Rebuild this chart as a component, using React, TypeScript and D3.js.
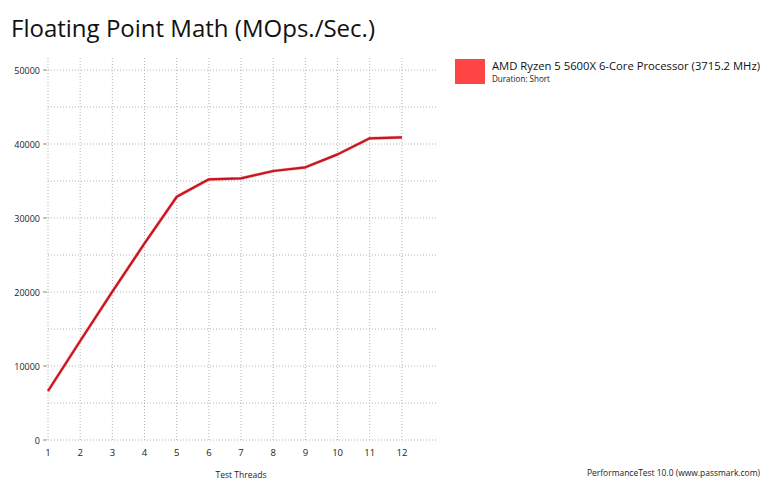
import * as d3 from 'd3';

const threads = [1, 2, 3, 4, 5, 6, 7, 8, 9, 10, 11, 12];
const mops = [6620, 13380, 20040, 26570, 32870, 35230, 35360, 36350, 36850, 38600, 40770, 40900];
const yTickLabels = [0, 10000, 20000, 30000, 40000, 50000];
const yGrid = [0, 5000, 10000, 15000, 20000, 25000, 30000, 35000, 40000, 45000, 50000];
const seriesName = 'AMD Ryzen 5 5600X 6-Core Processor (3715.2 MHz)';
const seriesSub = 'Duration: Short';

const W = 771;
const H = 487;
const font = '"Open Sans", "Noto Sans", sans-serif';

const App = () => {
  const x = d3.scaleLinear().domain([1, 13.09]).range([48, 437]);
  const y = d3.scaleLinear().domain([0, 50000]).range([440, 70]);
  const top = 58;

  const line = d3.line<number>()
    .x((_, i) => x(threads[i]))
    .y(d => y(d));

  return (
    <svg width={W} height={H} style={{ position: 'fixed', left: 0, top: 0, background: '#fff' }}>
      <text x={11} y={37} fontFamily={font} fontSize={24} fill="#111" textLength={364} lengthAdjust="spacingAndGlyphs">Floating Point Math (MOps./Sec.)</text>

      {/* grid */}
      {yGrid.map(v => (
        <line key={'h' + v} x1={x(1)} x2={437} y1={y(v)} y2={y(v)}
          stroke="#b4b4b4" strokeDasharray="1,2" />
      ))}
      {threads.map(t => (
        <line key={'v' + t} x1={x(t)} x2={x(t)} y1={top} y2={440}
          stroke="#b4b4b4" strokeDasharray="1,2" />
      ))}

      {/* y axis ticks */}
      {yTickLabels.map(v => (
        <g key={'yt' + v}>
          <line x1={43} x2={47} y1={y(v)} y2={y(v)} stroke="#888" />
          <text x={40} y={y(v) + 3.5} textAnchor="end" fontFamily={font} fontSize={9} fill="#222">{v}</text>
        </g>
      ))}

      {/* x axis labels */}
      {threads.map(t => (
        <text key={'xt' + t} x={x(t)} y={456} textAnchor="middle" fontFamily={font} fontSize={9.5} fill="#222">{t}</text>
      ))}
      <text x={241} y={478} textAnchor="middle" fontFamily={font} fontSize={9} fill="#222" textLength={51} lengthAdjust="spacingAndGlyphs">Test Threads</text>

      {/* series */}
      <path d={line(mops) || ''} fill="none" stroke="#f06060" strokeWidth={3.2} strokeLinejoin="round" opacity={0.5} />
      <path d={line(mops) || ''} fill="none" stroke="#c8141e" strokeWidth={2.2} strokeLinejoin="round" />

      {/* legend */}
      <rect x={455} y={59} width={30} height={25} fill="#ff4444" />
      <text x={492} y={70} fontFamily={font} fontSize={10.5} fill="#111" textLength={268} lengthAdjust="spacingAndGlyphs">{seriesName}</text>
      <text x={492} y={81.5} fontFamily={font} fontSize={8.5} fill="#222" textLength={58} lengthAdjust="spacingAndGlyphs">{seriesSub}</text>

      <text x={760} y={476} textAnchor="end" fontFamily={font} fontSize={9} fill="#222" textLength={173} lengthAdjust="spacingAndGlyphs">PerformanceTest 10.0 (www.passmark.com)</text>
    </svg>
  );
};

export default App;
